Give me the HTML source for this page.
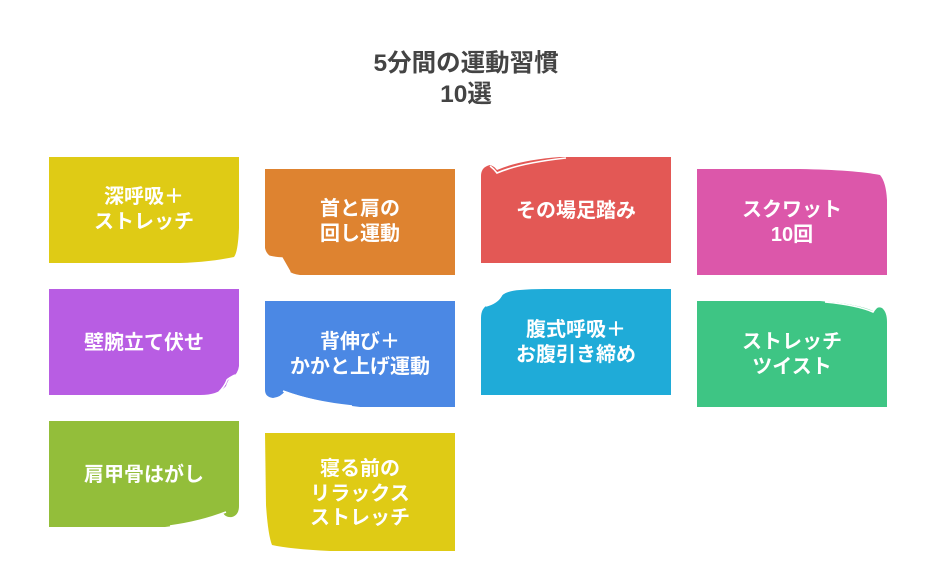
<!DOCTYPE html>
<html>
<head>
<meta charset="utf-8">
<style>
html,body{margin:0;padding:0;background:#ffffff;}
svg{display:block;}
text{font-family:"Liberation Sans","Noto Sans CJK JP",sans-serif;font-weight:bold;}
.t{fill:#ffffff;font-size:20px;text-anchor:middle;}
.h{fill:#444444;font-size:24.5px;text-anchor:middle;}
.w{fill:none;stroke:#ffffff;stroke-width:1.6;}
</style>
</head>
<body>
<svg width="936" height="577" viewBox="0 0 936 577" xmlns="http://www.w3.org/2000/svg">
<rect width="936" height="577" fill="#ffffff"/>

<text class="h" x="466" y="71">5分間の運動習慣</text>
<text class="h" x="466" y="102">10選</text>

<!-- Card 1 yellow -->
<path d="M49,157 H239 V228 Q238,252 234,257 Q210,262 180,263 H49 Z" fill="#DFCB15"/>
<text class="t" x="144" y="203">深呼吸＋</text>
<text class="t" x="144" y="228">ストレッチ</text>

<!-- Card 2 orange -->
<path d="M265,169 H455 V275 H300 Q292,274 289,271 L282,258 Q275,257 270,256 Q266,253 265,248 Z" fill="#DE8330"/>
<path class="w" d="M268,256 Q276,258 282,258 L290,272"/>
<text class="t" x="360" y="215">首と肩の</text>
<text class="t" x="360" y="240">回し運動</text>

<!-- Card 3 red -->
<path d="M481,176 Q481,167 490,165 Q494,166 497,170 Q520,160 560,157 H671 V263 H481 Z" fill="#E35855"/>
<path class="w" d="M490,166 Q494,169 497,173 Q520,163 566,158"/>
<text class="t" x="576" y="217">その場足踏み</text>

<!-- Card 4 pink -->
<path d="M697,169 H800 Q855,170 880,175 Q886,182 887,200 V275 H697 Z" fill="#DC57AA"/>
<text class="t" x="792" y="216">スクワット</text>
<text class="t" x="792" y="241">10回</text>

<!-- Card 5 purple -->
<path d="M49,289 H239 V366 Q238,374 232,377 Q228,379 226,386 Q218,395 200,395 H49 Z" fill="#B85DE3"/>
<path class="w" d="M235,375 Q229,378 227,380 Q225,386 219,392"/>
<text class="t" x="144" y="349">壁腕立て伏せ</text>

<!-- Card 6 blue -->
<path d="M265,301 H455 V407 H360 Q315,402 285,391 Q281,397 273,398 Q265,397 265,390 Z" fill="#4B88E4"/>
<path class="w" d="M283,391 Q312,402 352,406"/>
<text class="t" x="360" y="348">背伸び＋</text>
<text class="t" x="360" y="373">かかと上げ運動</text>

<!-- Card 7 cyan -->
<path d="M481,318 Q481,308 488,305 Q496,303 500,298 Q504,291 520,290 Q530,289 545,289 H671 V395 H481 Z" fill="#1FABD8"/>
<path class="w" d="M486,306 Q497,303 501,296 Q503,292 506,292"/>
<text class="t" x="576" y="336">腹式呼吸＋</text>
<text class="t" x="576" y="361">お腹引き締め</text>

<!-- Card 8 green -->
<path d="M697,301 H820 Q858,304 873,311 Q877,306 882,308 Q887,312 887,322 V407 H697 Z" fill="#3EC584"/>
<path class="w" d="M825,302 Q857,305 873,312 Q876,307 879,306"/>
<text class="t" x="792" y="348">ストレッチ</text>
<text class="t" x="792" y="373">ツイスト</text>

<!-- Card 9 lime -->
<path d="M49,421 H239 V506 Q239,515 232,517 Q226,518 223,513 Q198,523 165,527 H49 Z" fill="#93BE3A"/>
<path class="w" d="M226,512 Q200,522 170,526"/>
<text class="t" x="144" y="481">肩甲骨はがし</text>

<!-- Card 10 yellow -->
<path d="M265,433 H455 V551 H330 Q290,549 272,545 Q268,535 266,505 Z" fill="#DFCB15"/>
<text class="t" x="360" y="475">寝る前の</text>
<text class="t" x="360" y="500">リラックス</text>
<text class="t" x="360" y="524">ストレッチ</text>
</svg>
</body>
</html>
